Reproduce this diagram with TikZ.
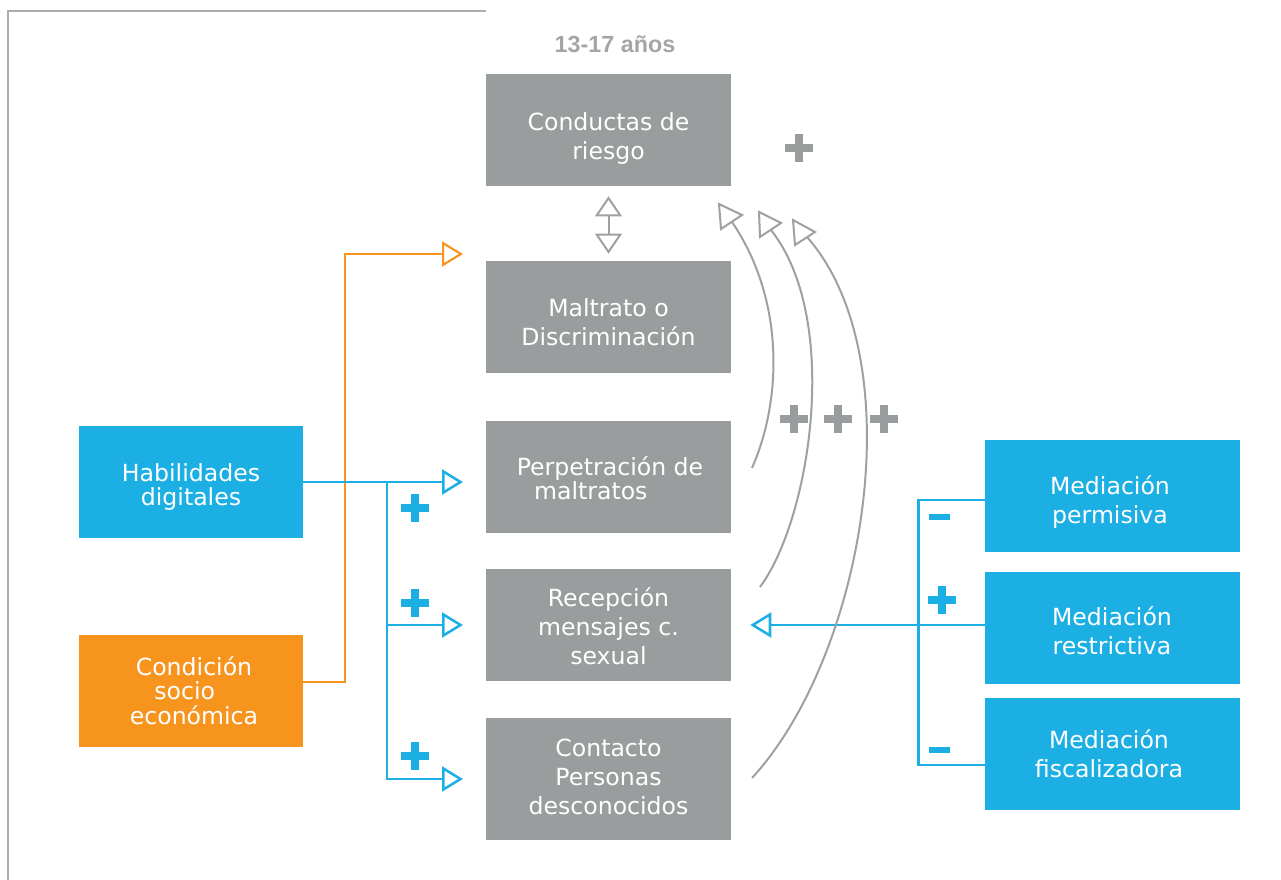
\documentclass[tikz,border=0pt]{standalone}
\usepackage{fontspec}
\setmainfont{DejaVu Sans}
\newfontfamily\titlefont{Liberation Sans}
\usetikzlibrary{arrows.meta,calc}
\definecolor{boxgray}{HTML}{9A9D9E}
\definecolor{linegray}{HTML}{9EA1A2}
\definecolor{titlegray}{HTML}{A3A5A6}
\definecolor{myblue}{HTML}{1CAFE4}
\definecolor{myorange}{HTML}{F7941E}
\definecolor{framegray}{HTML}{ABADAE}
\begin{document}
\begin{tikzpicture}[x=0.75pt,y=-0.75pt,
  boxbase/.style={rectangle, inner sep=0pt, draw=none},
  graybox/.style={boxbase, fill=boxgray, minimum width=183.75pt, minimum height=84pt},
  bluebox/.style={boxbase, fill=myblue, minimum width=168pt, minimum height=84pt},
  orangebox/.style={boxbase, fill=myorange, minimum width=168pt, minimum height=84pt},
  rbluebox/.style={boxbase, fill=myblue, minimum width=191.25pt, minimum height=84pt},
  wtext/.style={anchor=north, inner sep=0pt, text=white, align=center,
     font=\fontsize{17.7}{21.75}\selectfont, execute at begin node=\strut},
  blueline/.style={draw=myblue, line width=1.9pt},
  orangeline/.style={draw=myorange, line width=1.6pt},
  grayline/.style={draw=linegray, line width=1.5pt},
  opentip/.style={-{Triangle[open, length=15.75pt, width=18.75pt]}},
  dbltip/.style={{Triangle[open, length=15pt, width=20pt]}-{Triangle[open, length=15pt, width=20pt]}},
  tri/.style={grayline, fill=white, line join=miter},
  plussign/.pic={\fill (-14,-4.3) rectangle (14,4.3); \fill (-4.3,-14) rectangle (4.3,14);},
  minussign/.pic={\fill (-10.5,-3.3) rectangle (10.5,3.3);}
]
\useasboundingbox (0,0) rectangle (1281,880);
\draw[framegray, line width=1.1pt] (8,880) -- (8,11) -- (486,11);

\node[anchor=base, inner sep=0pt, text=titlegray, font=\titlefont\bfseries\fontsize{17.5}{20}\selectfont] (tit) at (615,53) {13-17 años};

% boxes
\node[graybox] (cr) at (608.5,130) {};
\node[graybox] (mal) at (608.5,317) {};
\node[graybox] (perp) at (608.5,477) {};
\node[graybox] (rec) at (608.5,625) {};
\node[graybox, minimum height=91.5pt] (con) at (608.5,779) {};
\node[bluebox] (hab) at (191,482) {};
\node[orangebox] (soc) at (191,691) {};
\node[rbluebox] (mp) at (1112.5,496) {};
\node[rbluebox] (mr) at (1112.5,628) {};
\node[rbluebox] (mf) at (1112.5,754) {};

% texts
\node[wtext] (crt) at (608.5,112.5) {Conductas de\\riesgo};
\node[wtext] (malt) at (608.5,298.5) {Maltrato o\\Discriminación};
\node[wtext, align=left, font=\fontsize{17.7}{18}\selectfont] (perpt) at (610,456.2) {Perpetración de\\\hspace*{13pt}maltratos};
\node[wtext] (rect) at (608.5,587) {Recepción\\mensajes c.\\sexual};
\node[wtext] (cont) at (608.5,738.5) {Contacto\\Personas\\desconocidos};
\node[wtext, font=\fontsize{17.7}{17.6}\selectfont] (habt) at (191,463.5) {Habilidades\\digitales};
\node[wtext, font=\fontsize{17.7}{18.4}\selectfont] (soct) at (194,655.9) {Condición\\\mbox{socio\hspace{14pt}}\\económica};
\node[wtext] (mpt) at (1110,475) {Mediación\\permisiva};
\node[wtext] (mrt) at (1112,606) {Mediación\\restrictiva};
\node[wtext] (mft) at (1109,729) {Mediación\\fiscalizadora};

% left connectors
\coordinate (tx) at (463,0);
\coordinate (bx) at (387,0);
\coordinate (ox) at (345,0);
\coordinate (otip) at (463,254);
\draw[orangeline, opentip] ($(soc.east)+(0,-9)$) -| (ox |- otip) -- (otip);
\draw[blueline, opentip] (hab.east) -- (hab.east -| tx);
\draw[blueline, opentip] (hab.east -| bx) |- (rec.west -| tx);
\draw[blueline, opentip] (hab.east -| bx) |- (con.west -| tx);

% right connectors
\draw[blueline] ($(mp.west)+(0,4)$) -- ($(mp.west)+(-66,4)$) -- ($(mf.west)+(-66,11)$) -- ($(mf.west)+(0,11)$);
\draw[blueline, opentip] ($(mr.west)+(0,-3)$) -- ($(rec.east)+(19,0)$);

% double arrow
\draw[grayline, dbltip] ($(cr.south)+(0,10)$) -- ($(mal.north)+(0,-7)$);

% curves
\coordinate (a1s) at (752,468); \coordinate (a1e) at (732,222);
\coordinate (a2s) at (760,587); \coordinate (a2e) at (771,230);
\coordinate (a3s) at (752,778); \coordinate (a3e) at (807,237);
\draw[grayline] (a1s) .. controls (782,400) and (785,300) .. (a1e);
\draw[grayline] (a2s) .. controls (810,520) and (842,320) .. (a2e);
\draw[grayline] (a3s) .. controls (865,655) and (915,360) .. (a3e);
\draw[tri] (719,204) -- (742,215) -- (721,229) -- cycle;
\draw[tri] (759,212) -- (781,223) -- (760,237) -- cycle;
\draw[tri] (793,220) -- (815,232) -- (795,245) -- cycle;

% signs
\pic[boxgray] at (799,148) {plussign};
\pic[boxgray] at (794,419) {plussign};
\pic[boxgray] at (838,419) {plussign};
\pic[boxgray] at (884,419) {plussign};
\pic[myblue] at (415,508) {plussign};
\pic[myblue] at (415,603) {plussign};
\pic[myblue] at (415,756) {plussign};
\pic[myblue] at (939,517) {minussign};
\pic[myblue] at (942,600) {plussign};
\pic[myblue] at (939,750) {minussign};
\end{tikzpicture}
\end{document}
